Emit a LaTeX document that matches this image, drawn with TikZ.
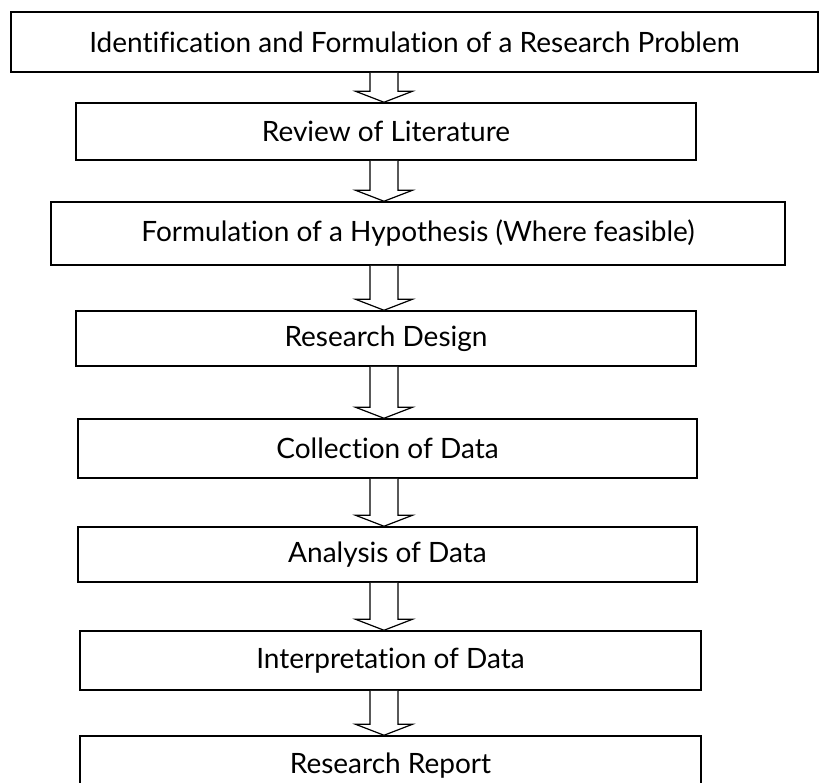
\documentclass[tikz,border=0pt]{standalone}
\usepackage{fontspec}
\setmainfont{Lato}[Ligatures={NoCommon,NoContextual}]
\usetikzlibrary{positioning, calc}
\tikzset{
    x=1pt, y=-1pt, % one unit is one pixel of the page, y goes down
    every node/.style={font=\fontsize{28}{33}\selectfont}, % text size of the steps
    etapa/.style={draw, line width=1.5pt, rectangle, inner sep=0pt, align=center}, % sets the properties for each step box
    flecha/.style={draw, line width=1.2pt, fill=white, line join=miter} % hollow arrows between the steps
}
% hollow arrow from the bottom of one step to the top of the next
\newcommand{\flechahueca}[2]{%
    \draw[flecha] let \p1=(#1.south -| eje), \p2=(#2.north -| eje) in
        (\x1-14pt,\y1) -- (\x1-14pt,\y2+11pt) -- (\x1-28.5pt,\y2+11pt) -- (\x2,\y2)
        -- (\x1+28.5pt,\y2+11pt) -- (\x1+14pt,\y2+11pt) -- (\x1+14pt,\y1);}

\begin{document}
\begin{tikzpicture}
		\useasboundingbox (0,0) rectangle (819,782);
		\clip (0,0) rectangle (819,782);
		\coordinate (eje) at (384,0);

		% Etapas
		\node[etapa, minimum width=807, minimum height=60](IF) at (414.5,42) {Identification and Formulation of a Research Problem};
		\node[etapa, minimum width=620, minimum height=57](RL) at (386,131.5) {Review of Literature};
		\node[etapa, minimum width=734, minimum height=63](FH) at (418,233.5) {Formulation of a Hypothesis (Where feasible)};
		\node[etapa, minimum width=620, minimum height=55](RD) at (386,338.5) {Research Design};
		\node[etapa, minimum width=619, minimum height=59](CD) at (387.5,448.5) {Collection of Data};
		\node[etapa, minimum width=619, minimum height=55](AD) at (387.5,554.5) {Analysis of Data};
		\node[etapa, minimum width=621, minimum height=59](ID) at (390.5,660.5) {Interpretation of Data};
		\node[etapa, minimum width=621, minimum height=59](RR) at (390.5,765.5) {Research Report};

		% Flechas
		\flechahueca{IF}{RL}
		\flechahueca{RL}{FH}
		\flechahueca{FH}{RD}
		\flechahueca{RD}{CD}
		\flechahueca{CD}{AD}
		\flechahueca{AD}{ID}
		\flechahueca{ID}{RR}
\end{tikzpicture}
\end{document}
